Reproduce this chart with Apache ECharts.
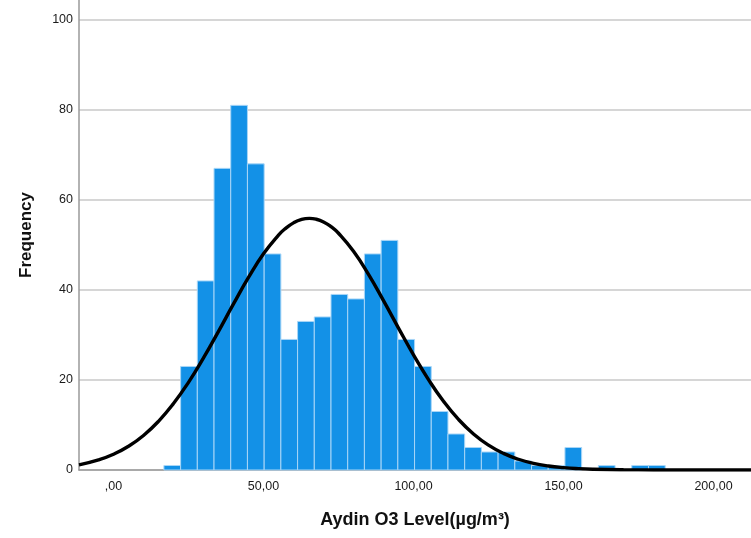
<!DOCTYPE html>
<html>
<head>
<meta charset="utf-8">
<title>Aydin O3 Level histogram</title>
<script src="https://cdn.jsdelivr.net/npm/echarts@6/dist/echarts.min.js"></script>
<style>
  html, body { margin: 0; padding: 0; background: #fff; }
  #main { width: 751px; height: 538px; }
</style>
</head>
<body>
<div id="main"></div>
<script>
// histogram bins (SPSS style), counts
var binStart = 16.8;      // left edge of first bin
var binWidth = 5.57;      // width of each bin
var counts = [1, 23, 42, 67, 81, 68, 48, 29, 33, 34, 39, 38, 48, 51, 29,
              23, 13, 8, 5, 4, 4, 2, 1, 1, 5, 0, 1, 0, 1, 1];

// normal curve, read at these x positions
var curveX = [-11.5, -5, 0, 5, 10, 15, 20, 25, 30, 35, 40, 45, 50, 55, 57.5, 60,
              62.5, 65.3, 67.5, 70, 72.5, 75, 80, 85, 90, 95, 100, 105, 110, 115,
              120, 125, 130, 135, 140, 145, 150, 155, 160, 170, 180, 195, 212.5];
var curveY = [1.15, 2.26, 3.51, 5.27, 7.67, 10.81, 14.76, 19.47, 24.89, 30.8,
              36.89, 42.77, 48.02, 52.18, 53.74, 54.89, 55.62, 55.9, 55.72, 55.11,
              54.05, 52.59, 48.58, 43.45, 37.61, 31.53, 25.58, 20.09, 15.27, 11.24,
              8.01, 5.52, 3.69, 2.39, 1.49, 0.9, 0.53, 0.3, 0.17, 0.05, 0.01, 0, 0];

// tick labels
var xTickValues = [0, 50, 100, 150, 200];
var xTickLabels = [',00', '50,00', '100,00', '150,00', '200,00'];
var yTicks = [0, 20, 40, 60, 80, 100];

var xName = 'Aydin O3 Level(\u00b5g/m\u00b3)';
var yName = 'Frequency';

var chart = echarts.init(document.getElementById('main'));

// [start, end, count] for the custom bar series
var binData = [];
for (var i = 0; i < counts.length; i++) {
	binData.push([binStart + i * binWidth, binStart + (i + 1) * binWidth, counts[i]]);
}
var curveData = [];
for (var j = 0; j < curveX.length; j++) {
	curveData.push([curveX[j], curveY[j]]);
}

var font = 'Liberation Sans, Arial, sans-serif';

var option = {
	animation: false,
	grid: { left: 79, right: 0, top: 0, bottom: 68 },
	xAxis: {
		type: 'value',
		min: -11.5,
		max: 212.5,
		name: xName,
		nameLocation: 'middle',
		nameGap: 41,
		nameTextStyle: { color: '#111', fontSize: 18, fontWeight: 'bold', fontFamily: font },
		axisLine: { show: true, onZero: false, lineStyle: { color: '#9a9a9a', width: 1.5 } },
		axisTick: { show: false },
		splitLine: { show: false },
		axisLabel: {
			customValues: xTickValues,
			margin: 10,
			color: '#1a1a1a',
			fontSize: 12.5,
			fontFamily: font,
			formatter: function (v) {
				var k = xTickValues.indexOf(v);
				return k >= 0 ? xTickLabels[k] : '';
			}
		}
	},
	yAxis: {
		type: 'value',
		min: 0,
		max: 104.4,
		interval: 20,
		name: yName,
		nameLocation: 'middle',
		nameGap: 44,
		nameTextStyle: { color: '#111', fontSize: 17, fontWeight: 'bold', fontFamily: font },
		axisLine: { show: true, onZero: false, lineStyle: { color: '#9a9a9a', width: 1.5 } },
		axisTick: { show: false },
		splitLine: {
			show: true,
			lineStyle: {
				color: ['#c8c8c8', '#c8c8c8', '#c8c8c8', '#c8c8c8', '#c8c8c8', '#c8c8c8', 'rgba(0,0,0,0)'],
				width: 1.5
			}
		},
		axisLabel: {
			margin: 6,
			color: '#1a1a1a',
			fontSize: 12.5,
			fontFamily: font,
			showMaxLabel: false,
			formatter: function (v) {
				return yTicks.indexOf(v) >= 0 ? String(v) : '';
			}
		}
	},
	series: [
		{
			type: 'custom',
			data: binData,
			encode: { x: [0, 1], y: 2 },
			z: 2,
			renderItem: function (params, api) {
				if (!api.value(2)) return null;
				var p0 = api.coord([api.value(0), api.value(2)]);
				var p1 = api.coord([api.value(1), 0]);
				return {
					type: 'rect',
					shape: { x: p0[0], y: p0[1], width: p1[0] - p0[0], height: p1[1] - p0[1] },
					style: { fill: '#1391e7', stroke: '#a9d6f7', lineWidth: 1 }
				};
			}
		},
		{
			type: 'line',
			data: curveData,
			smooth: 0.5,
			showSymbol: false,
			z: 3,
			lineStyle: { color: '#000', width: 3.4 }
		}
	]
};
chart.setOption(option);
</script>
</body>
</html>
